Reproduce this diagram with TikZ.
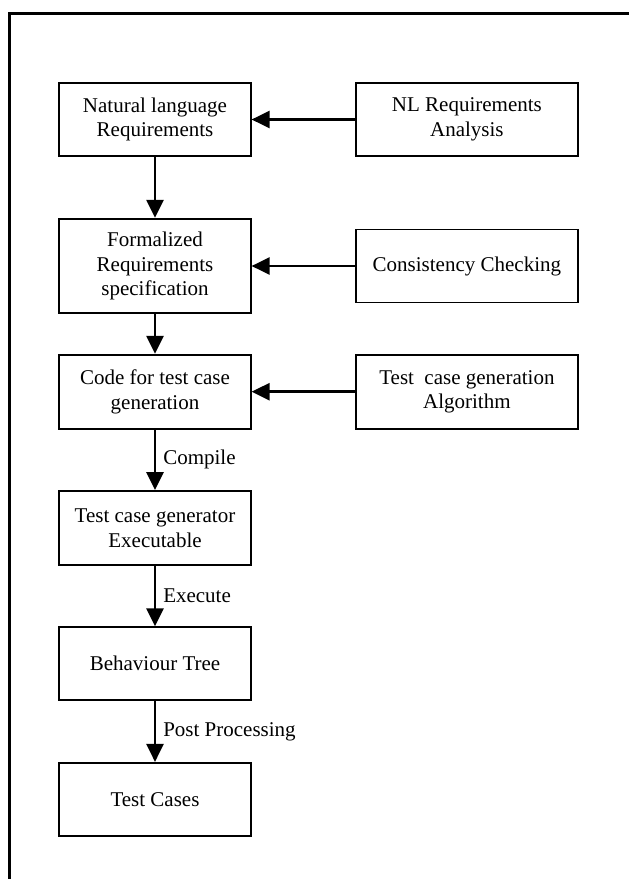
\documentclass[tikz,border=0pt]{standalone}
\usepackage{fontspec}
\setmainfont{Liberation Serif}
\usetikzlibrary{arrows.meta}
\begin{document}
\begin{tikzpicture}[x=1pt,y=-1pt,
  font=\fontsize{21}{24.7}\selectfont,
  box/.style={draw, line width=1.8pt, align=center, inner sep=0pt, minimum height=73pt},
  lbox/.style={box, minimum width=191.4pt},
  rbox/.style={box, minimum width=221.7pt},
  flow/.style={line width=2.5pt, -{Triangle[length=18pt,width=17pt]}},
  lab/.style={midway, anchor=west, inner sep=0pt, xshift=7pt}]
\useasboundingbox (0,0) rectangle (629,879);
\draw[line width=3pt] (9.5,885) -- (9.5,13.5) -- (635,13.5);

\node[lbox] (b1) at (155,119.5) {Natural language\\Requirements};
\node[lbox, minimum height=94.6pt] (b2) at (155,266) {Formalized\\Requirements\\specification};
\node[lbox, minimum height=74pt] (b3) at (155,391.7) {Code for test case\\generation};
\node[lbox, minimum height=74pt] (b4) at (155,528) {Test case generator\\Executable};
\node[lbox] (b5) at (155,663.7) {Behaviour Tree};
\node[lbox] (b6) at (155,799.3) {Test Cases};

\node[rbox] (r1) at (466.9,119.5) {NL Requirements\\Analysis};
\node[rbox] (r2) at (466.9,266) {Consistency Checking};
\node[rbox, minimum height=74pt] (r3) at (466.9,391.7) {Test\ \ case generation\\Algorithm};

\draw[flow] (r1) -- (b1);
\draw[flow] (r2) -- (b2);
\draw[flow] (r3) -- (b3);

\draw[flow] (b1) -- (b2);
\draw[flow] (b2) -- (b3);
\draw[flow] (b3) -- (b4) node[lab] {Compile};
\draw[flow] (b4) -- (b5) node[lab] {Execute};
\draw[flow] (b5) -- (b6) node[lab] {Post Processing};
\end{tikzpicture}
\end{document}
